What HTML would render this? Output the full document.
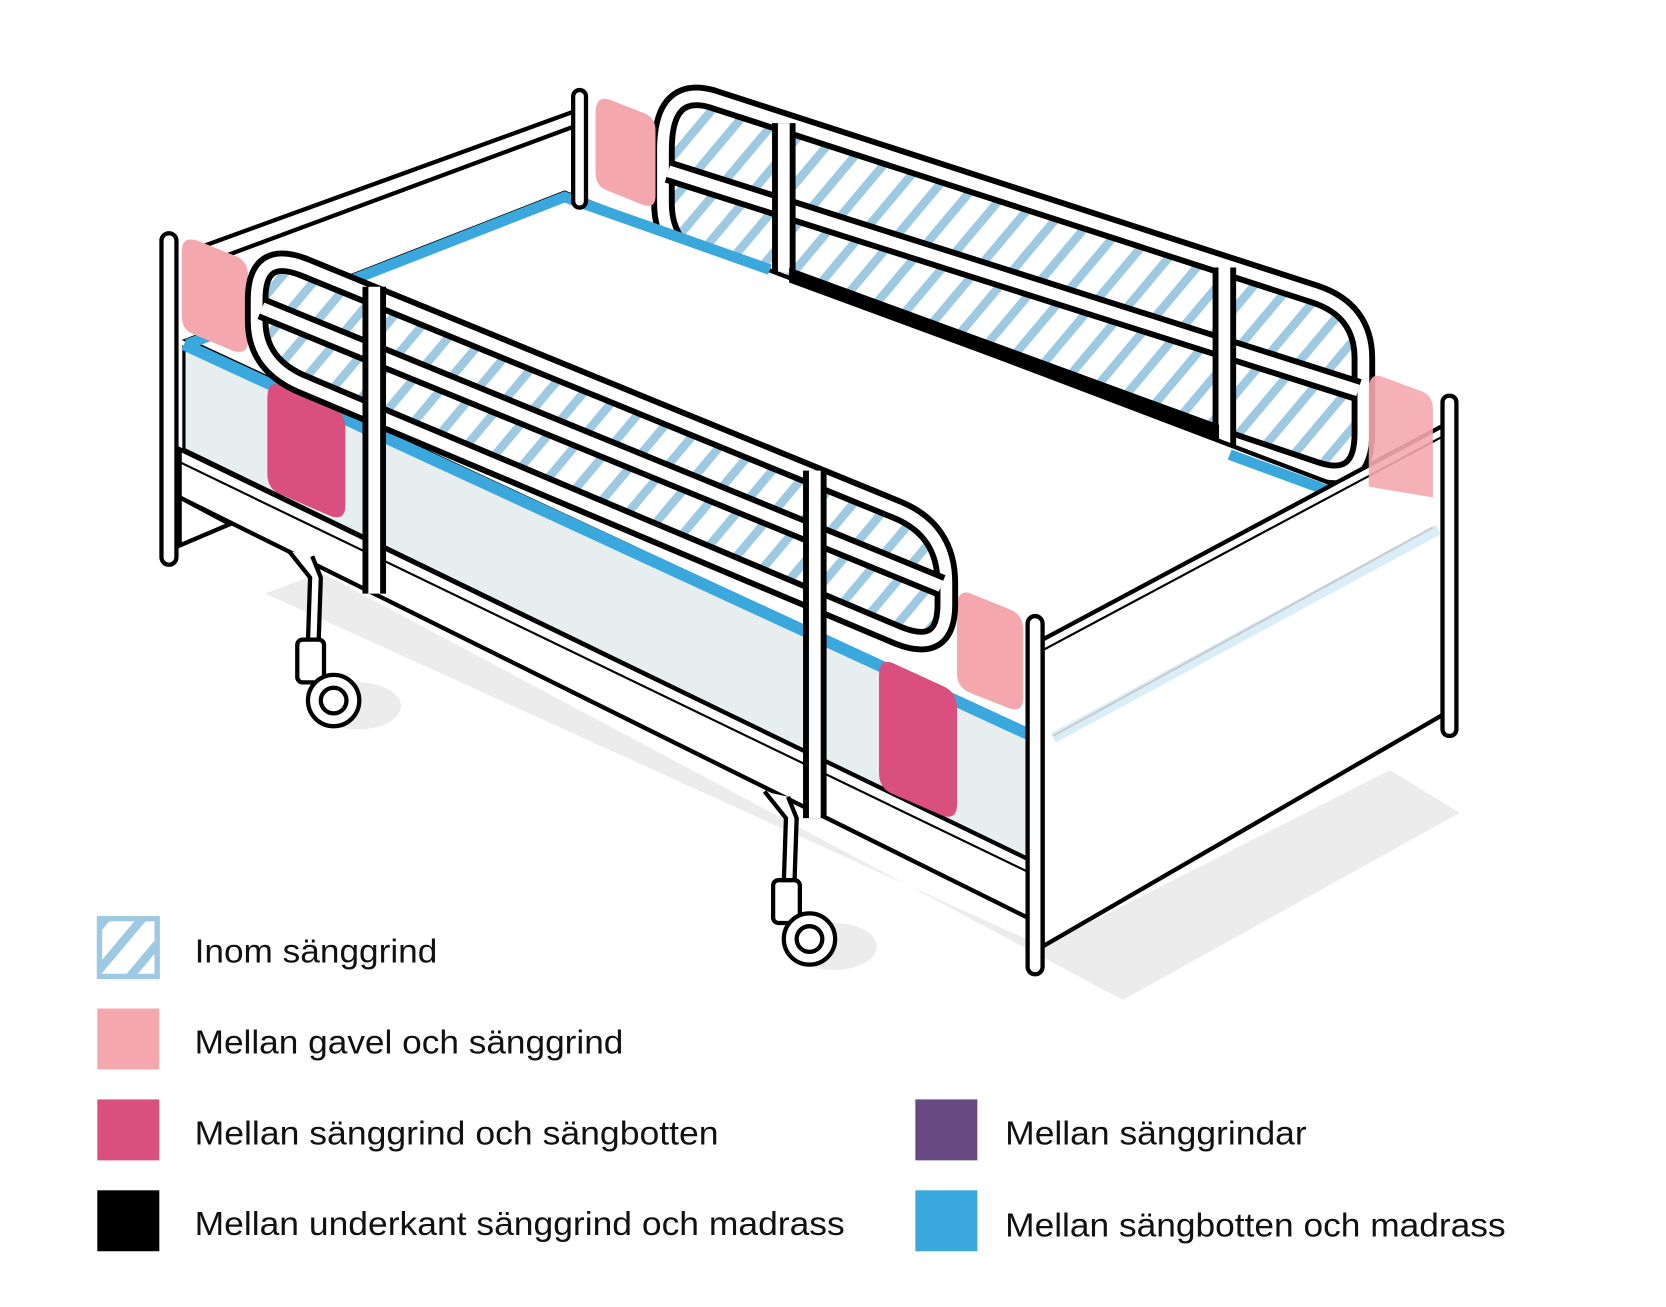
<!DOCTYPE html>
<html><head><meta charset="utf-8"><style>
html,body{margin:0;padding:0;background:#fff;}
svg{display:block;}
text{font-family:"Liberation Sans",sans-serif;font-size:31px;fill:#111;}
</style></head><body>
<svg width="1666" height="1307" viewBox="0 0 1558 1222" xmlns="http://www.w3.org/2000/svg">
<defs>
<pattern id="h" patternUnits="userSpaceOnUse" width="26" height="26" patternTransform="rotate(40)">
<rect width="26" height="26" fill="#fff"/><rect width="8" height="26" fill="#9ec9e2"/>
</pattern>
<clipPath id="nr"><path d="M285 250 L840 477 Q885 496 885 545 L885 565 Q885 612 840 594 L285 360 Q240 342 240 300 L240 280 Q240 232 285 250 Z"/></clipPath>
<clipPath id="fr"><path d="M665 92 L1230 275 Q1275 290 1275 335 L1275 405 Q1275 455 1230 440 L665 250 Q620 235 620 190 L620 140 Q620 80 665 92 Z"/></clipPath>
</defs>
<polygon points="248,555 300,535 1050,935 1365,760 1300,720 975,885" fill="#ececec"/>
<ellipse cx="335" cy="660" rx="40" ry="22" fill="#ececec"/>
<ellipse cx="780" cy="885" rx="40" ry="22" fill="#ececec"/>
<g stroke="#000" stroke-width="4" fill="none">
<line x1="190" y1="230" x2="540" y2="103"/><line x1="195" y1="245" x2="540" y2="117"/>
</g>
<g clip-path="url(#fr)"><rect x="600" y="60" width="700" height="420" fill="url(#h)"/></g>
<path d="M665 92 L1230 275 Q1275 290 1275 335 L1275 405 Q1275 455 1230 440 L665 250 Q620 235 620 190 L620 140 Q620 80 665 92 Z" fill="none" stroke="#000" stroke-width="22"/>
<path d="M665 92 L1230 275 Q1275 290 1275 335 L1275 405 Q1275 455 1230 440 L665 250 Q620 235 620 190 L620 140 Q620 80 665 92 Z" fill="none" stroke="#fff" stroke-width="11"/>
<g fill="none"><path d="M625 160 L1270 365" stroke="#000" stroke-width="22"/><path d="M625 160 L1270 365" stroke="#fff" stroke-width="11"/>
<path d="M733 115 V255 M1145 250 V420" stroke="#000" stroke-width="22"/><path d="M733 115 V255 M1145 250 V420" stroke="#fff" stroke-width="11"/></g>
<polygon points="175,318 528,180 1345,490 975,690" fill="#fff" stroke="#000" stroke-width="4"/>
<polyline points="175,322 528,184 720,252" fill="none" stroke="#3aa8dc" stroke-width="10"/>
<polyline points="1150,425 1240,458" fill="none" stroke="#3aa8dc" stroke-width="10"/>
<polygon points="738,250 1140,397 1140,412 738,264" fill="#000"/>
<polygon points="172,325 965,690 965,805 172,420" fill="#e6eef0" stroke="#000" stroke-width="3"/>
<line x1="172" y1="322" x2="965" y2="688" stroke="#3aa8dc" stroke-width="11"/>
<polygon points="168,420 965,805 965,860 168,465" fill="#fff" stroke="#000" stroke-width="4"/>
<line x1="168" y1="432" x2="965" y2="817" stroke="#000" stroke-width="2"/>
<polygon points="168,465 215,490 168,510" fill="#fff" stroke="#000" stroke-width="4"/>
<g stroke="#000" stroke-width="4" fill="#fff">
<path d="M270 515 L290 540 L288 600 L298 600 L300 540 L292 520"/>
<rect x="278" y="598" width="25" height="40" rx="5"/>
<circle cx="312" cy="655" r="24"/><circle cx="312" cy="655" r="12"/>
<path d="M715 740 L735 765 L733 825 L743 825 L745 765 L737 745"/>
<rect x="723" y="823" width="25" height="40" rx="5"/>
<circle cx="757" cy="878" r="24"/><circle cx="757" cy="878" r="12"/>
</g>
<polygon points="975,598 1355,395 1355,665 975,885" fill="#fff" stroke="#000" stroke-width="4"/>
<polyline points="985,690 1345,495" fill="none" stroke="#daeefa" stroke-width="10"/>
<polyline points="985,688 1340,493" fill="none" stroke="#ccc" stroke-width="2"/>
<line x1="975" y1="608" x2="1355" y2="405" stroke="#000" stroke-width="2"/>
<g fill="#fff" stroke="#000" stroke-width="4">
<rect x="151" y="218" width="14" height="310" rx="7"/>
<rect x="536" y="84" width="12" height="110" rx="6"/>
<rect x="1349" y="370" width="13" height="318" rx="6"/>
<rect x="961" y="576" width="14" height="335" rx="7"/>
</g>
<g fill="#f4a8ad">
<path d="M185 225 L222 240 Q232 245 232 258 V318 Q232 332 218 328 L180 312 Q170 308 170 295 V235 Q170 220 185 225Z"/>
<path d="M570 93 L603 106 Q613 110 613 122 V183 Q613 196 600 191 L568 178 Q557 174 557 162 V105 Q557 89 570 93Z"/>
<path d="M908 555 L945 570 Q957 575 957 590 V652 Q957 667 943 662 L908 648 Q895 643 895 630 V568 Q895 550 908 555Z"/>
<path d="M1292 352 L1330 366 Q1340 370 1340 383 V465 L1280 455 V365 Q1280 348 1292 352Z" opacity="0.9"/>
</g>
<g fill="#d94f7e">
<path d="M262 360 L312 382 Q323 387 323 400 V472 Q323 488 308 482 L262 462 Q250 457 250 443 V373 Q250 355 262 360Z"/>
<path d="M835 620 L883 642 Q895 648 895 662 V752 Q895 768 880 762 L834 742 Q822 737 822 722 V632 Q822 615 835 620Z"/>
</g>
<g clip-path="url(#nr)"><rect x="230" y="220" width="670" height="400" fill="url(#h)"/></g>
<path d="M285 250 L840 477 Q885 496 885 545 L885 565 Q885 612 840 594 L285 360 Q240 342 240 300 L240 280 Q240 232 285 250 Z" fill="none" stroke="#000" stroke-width="22"/>
<path d="M285 250 L840 477 Q885 496 885 545 L885 565 Q885 612 840 594 L285 360 Q240 342 240 300 L240 280 Q240 232 285 250 Z" fill="none" stroke="#fff" stroke-width="11"/>
<g fill="none"><path d="M245 288 L880 548" stroke="#000" stroke-width="22"/><path d="M245 288 L880 548" stroke="#fff" stroke-width="11"/>
<path d="M350 268 V555 M762 440 V765" stroke="#000" stroke-width="22"/><path d="M350 268 V555 M762 440 V765" stroke="#fff" stroke-width="11"/></g>
<rect x="93" y="859" width="54" height="54" fill="url(#h)" stroke="#9ec9e2" stroke-width="5"/>
<rect x="91" y="943" width="58" height="57" fill="#f4a8ad"/>
<rect x="91" y="1028" width="58" height="57" fill="#d94f7e"/>
<rect x="91" y="1113" width="58" height="57" fill="#000"/>
<rect x="856" y="1028" width="58" height="57" fill="#674a82"/>
<rect x="856" y="1113" width="58" height="57" fill="#3aa8dc"/>
<text x="182" y="900" textLength="227" lengthAdjust="spacingAndGlyphs">Inom sänggrind</text>
<text x="182" y="985" textLength="401" lengthAdjust="spacingAndGlyphs">Mellan gavel och sänggrind</text>
<text x="182" y="1070" textLength="490" lengthAdjust="spacingAndGlyphs">Mellan sänggrind och sängbotten</text>
<text x="182" y="1155" textLength="608" lengthAdjust="spacingAndGlyphs">Mellan underkant sänggrind och madrass</text>
<text x="940" y="1070" textLength="282" lengthAdjust="spacingAndGlyphs">Mellan sänggrindar</text>
<text x="940" y="1156" textLength="468" lengthAdjust="spacingAndGlyphs">Mellan sängbotten och madrass</text>
</svg>
</body></html>
